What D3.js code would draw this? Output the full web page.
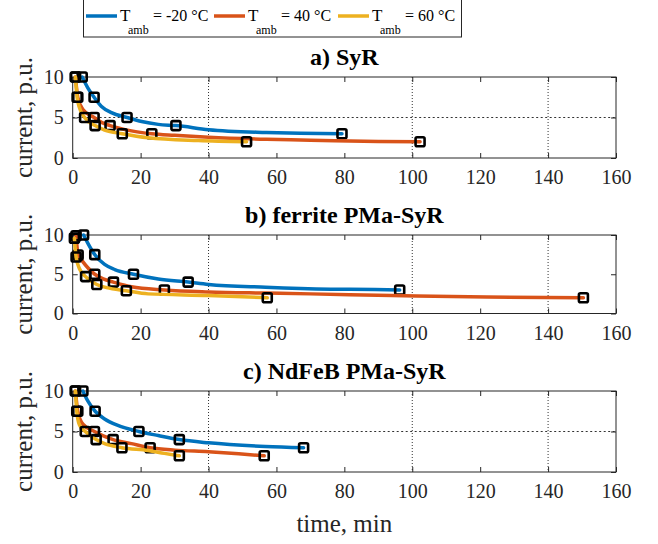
<!DOCTYPE html>
<html>
<head>
<meta charset="utf-8">
<script src="https://cdn.jsdelivr.net/npm/d3@7"></script>
<style>
  html, body { margin: 0; padding: 0; background: #fff; }
  svg { display: block; }
</style>
</head>
<body>
<svg id="chart" width="658" height="544" font-family="Liberation Serif"></svg>
<script>
// Ambient temperatures (legend) and series colours
const ambTemps = ["-20", "40", "60"];
const seriesColors = ["#0072BD", "#D95319", "#EDB120"];

// Panel titles and axis ticks
const panelTitles = ["a) SyR", "b) ferrite PMa-SyR", "c) NdFeB PMa-SyR"];
const xTicks = [0, 20, 40, 60, 80, 100, 120, 140, 160];
const yTicks = [0, 5, 10];
const gridX = [40, 100, 140];
const gridYByPanel = [[5], [], [5]];

// a) SyR — current (p.u.) vs time (min)
const syrCold = [[2.8,10],[4.4,8.7],[6.3,7.5],[8.4,6.4],[11.4,5.6],[16,5],[20.3,4.5],[25.2,4.15],[30.4,4],[40,3.5],[57,3.15],[67,3.05],[79.3,3]];
const syrColdMarks = [[2.8,10],[6.3,7.5],[16,5],[30.4,4],[79.3,3]];
const syrWarm = [[0.8,10],[1.5,7.5],[3,6],[6.3,5],[8.5,4.4],[11,4],[17.3,3.35],[23.3,3],[30,2.8],[40,2.55],[57,2.3],[70,2.2],[90,2.05],[102.3,2]];
const syrWarmMarks = [[0.8,10],[1.5,7.5],[6.3,5],[11,4],[23.3,3],[102.3,2]];
const syrHot = [[0.8,10],[1.3,7.5],[2,6.2],[3.5,5],[6.6,4],[9.4,3.45],[14.6,3],[22.2,2.5],[37,2.15],[51.2,2]];
const syrHotMarks = [[0.8,10],[1.3,7.5],[3.5,5],[6.6,4],[14.6,3],[51.2,2]];

// b) ferrite PMa-SyR
const ferCold = [[3.2,10],[4.4,9],[6.5,7.5],[9.4,6.25],[12.4,5.6],[17.9,5],[25.2,4.4],[34,4],[40,3.7],[56.8,3.35],[76,3.1],[89,3.05],[96.3,3]];
const ferColdMarks = [[3.2,10],[6.5,7.5],[17.9,5],[34,4],[96.3,3]];
const ferWarm = [[1.0,9.9],[1.6,7.45],[2.8,6.7],[6.5,5],[9,4.4],[12,4],[17.3,3.4],[27,3],[40,2.75],[57,2.6],[70,2.5],[94,2.3],[122,2.1],[150.4,2]];
const ferWarmMarks = [[1.0,9.9],[1.6,7.45],[6.5,5],[12,4],[27,3],[150.4,2]];
const ferHot = [[0.5,9.6],[1.0,7.2],[2,5.7],[3.8,4.7],[7.1,3.7],[10,3.3],[15.8,2.9],[22.2,2.5],[40,2.3],[57.3,2]];
const ferHotMarks = [[0.5,9.6],[1.0,7.2],[3.8,4.7],[7.1,3.7],[15.8,2.9],[57.3,2]];

// c) NdFeB PMa-SyR
const ndCold = [[3,10],[4.4,8.8],[6.6,7.5],[9.4,6.55],[13.3,5.75],[19.5,5],[25.2,4.5],[31.4,4],[40,3.6],[56.8,3.15],[68,3]];
const ndColdMarks = [[3,10],[6.6,7.5],[19.5,5],[31.4,4],[68,3]];
const ndWarm = [[0.8,10],[1.5,7.5],[3,5.9],[6.4,5],[11.9,4],[17.3,3.5],[22.8,3],[30.1,2.7],[40,2.5],[48.9,2.25],[56.4,2]];
const ndWarmMarks = [[0.8,10],[1.5,7.5],[6.4,5],[11.9,4],[22.8,3],[56.4,2]];
const ndHot = [[0.8,10],[1.2,7.5],[2,5.8],[3.7,5],[6.9,4],[9.4,3.5],[14.5,3],[22.2,2.65],[27,2.3],[31.4,2]];
const ndHotMarks = [[0.8,10],[1.2,7.5],[3.7,5],[6.9,4],[14.5,3],[31.4,2]];

const panels = [
  { title: panelTitles[0], top: 77,  bottom: 158, grid: gridYByPanel[0],
    series: [[syrCold, syrColdMarks], [syrWarm, syrWarmMarks], [syrHot, syrHotMarks]] },
  { title: panelTitles[1], top: 235, bottom: 313.5, grid: gridYByPanel[1],
    series: [[ferCold, ferColdMarks], [ferWarm, ferWarmMarks], [ferHot, ferHotMarks]] },
  { title: panelTitles[2], top: 391, bottom: 472, grid: gridYByPanel[2],
    series: [[ndCold, ndColdMarks], [ndWarm, ndWarmMarks], [ndHot, ndHotMarks]] }
];

const FONT = "Liberation Serif";
const svg = d3.select("#chart");
const axisColor = "#262626";
const x = d3.scaleLinear().domain([0, 160]).range([72.7, 616]);

panels.forEach(p => {
  const y = d3.scaleLinear().domain([0, 10]).range([p.bottom, p.top]);
  const g = svg.append("g");

  // dotted grid
  g.selectAll(".gx").data(gridX).join("line")
    .attr("x1", d => x(d)).attr("x2", d => x(d))
    .attr("y1", p.top).attr("y2", p.bottom)
    .attr("stroke", "#333").attr("stroke-width", 1).attr("stroke-dasharray", "1,2");
  g.selectAll(".gy").data(p.grid).join("line")
    .attr("x1", x(0)).attr("x2", x(160))
    .attr("y1", d => y(d)).attr("y2", d => y(d))
    .attr("stroke", "#333").attr("stroke-width", 1).attr("stroke-dasharray", "2,2.5");

  // inward ticks on all four sides
  const mkAxis = (axis, transform) => {
    const a = g.append("g").attr("transform", transform).call(axis)
      .attr("font-family", FONT);
    a.select(".domain").remove();
    a.selectAll("line").attr("stroke", axisColor);
    return a;
  };
  const bx = mkAxis(d3.axisBottom(x).tickValues(xTicks).tickSize(-5), `translate(0,${p.bottom})`);
  bx.selectAll("text").attr("font-size", 20).attr("fill", axisColor)
    .attr("font-family", FONT).attr("dy", "0.71em").attr("y", 12);
  mkAxis(d3.axisTop(x).tickValues(xTicks).tickSize(-5).tickFormat(""), `translate(0,${p.top})`);
  const ly = mkAxis(d3.axisLeft(y).tickValues(yTicks).tickSize(-5), `translate(${x(0)},0)`);
  ly.selectAll("text").attr("font-size", 20).attr("fill", axisColor)
    .attr("font-family", FONT).attr("x", -9);
  mkAxis(d3.axisRight(y).tickValues(yTicks).tickSize(-5).tickFormat(""), `translate(${x(160)},0)`);

  // plot box
  g.append("rect")
    .attr("x", x(0)).attr("y", p.top)
    .attr("width", x(160) - x(0)).attr("height", p.bottom - p.top)
    .attr("fill", "none").attr("stroke", axisColor).attr("stroke-width", 1);

  // title
  g.append("text")
    .attr("x", (x(0) + x(160)) / 2).attr("y", p.top - 12)
    .attr("text-anchor", "middle").attr("font-size", 24).attr("font-weight", "bold")
    .attr("font-family", FONT).attr("fill", "#000").text(p.title);

  // y label
  g.append("text")
    .attr("transform", `translate(32,${(p.top + p.bottom) / 2}) rotate(-90)`)
    .attr("text-anchor", "middle").attr("font-size", 25).attr("fill", axisColor)
    .attr("font-family", FONT).text("current, p.u.");

  // curves and markers
  const line = d3.line().x(d => x(d[0])).y(d => y(d[1])).curve(d3.curveMonotoneX);
  p.series.forEach(([curve, marks], i) => {
    g.append("path").datum(curve)
      .attr("d", line).attr("fill", "none")
      .attr("stroke", seriesColors[i]).attr("stroke-width", 3.5)
      .attr("stroke-linejoin", "round").attr("stroke-linecap", "round");
    g.selectAll(null).data(marks).join("rect")
      .attr("x", d => x(d[0]) - 4.5).attr("y", d => y(d[1]) - 4.5)
      .attr("width", 9).attr("height", 9).attr("rx", 1.5)
      .attr("fill", "none").attr("stroke", "#000").attr("stroke-width", 2.6);
  });
});

// x label
svg.append("text")
  .attr("x", (x(0) + x(160)) / 2).attr("y", 532)
  .attr("text-anchor", "middle").attr("font-size", 25).attr("fill", axisColor)
  .attr("font-family", FONT).text("time, min");

// legend
const legend = svg.append("g");
legend.append("rect")
  .attr("x", 83.5).attr("y", -1).attr("width", 378).attr("height", 38)
  .attr("fill", "#fff").attr("stroke", axisColor).attr("stroke-width", 1);
const legendX = [86, 214, 338];
ambTemps.forEach((t, i) => {
  const lx = legendX[i];
  legend.append("line")
    .attr("x1", lx).attr("x2", lx + 31)
    .attr("y1", 16).attr("y2", 16)
    .attr("stroke", seriesColors[i]).attr("stroke-width", 3.5);
  const txt = legend.append("text")
    .attr("y", 21).attr("font-size", 17).attr("font-family", FONT).attr("fill", "#000");
  txt.append("tspan").attr("x", lx + 34).text("T");
  txt.append("tspan").attr("x", lx + 42).attr("y", 34).attr("font-size", 12).text("amb");
  txt.append("tspan").attr("x", lx + 67).attr("y", 21).attr("font-size", 16).text(`= ${t} °C`);
});
</script>
</body>
</html>
